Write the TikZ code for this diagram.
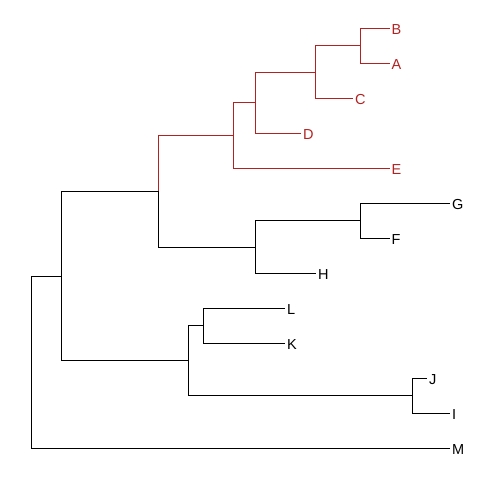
\documentclass[tikz,border=0pt]{standalone}
\usepackage{fontspec}
\setmainfont{Liberation Sans}
\definecolor{cladered}{RGB}{178,34,34}
\tikzset{
  branch/.style={line width=0.8pt, line join=miter},
  hot/.style={branch, draw=cladered},
  leaf/.style={anchor=west, inner xsep=1.8pt, inner ysep=0pt, text height=12.6pt, text depth=0pt,
    font=\fontsize{14.5}{14.5}\selectfont},
  hotleaf/.style={leaf, text=cladered}
}
\begin{document}
\begin{tikzpicture}[x=1pt, y=-1pt]
\useasboundingbox (0,0) rectangle (480,480);

% leaves
\node[hotleaf] (B) at (389.5, 28.3) {B};
\node[hotleaf] (A) at (389.5, 63.3) {A};
\node[hotleaf] (C) at (353,98.3) {C};
\node[hotleaf] (D) at (301,133.3) {D};
\node[hotleaf] (E) at (389.5,168.3) {E};
\node[leaf] (G) at (450,203.3) {G};
\node[leaf] (F) at (389.5,238.3) {F};
\node[leaf] (H) at (316,273.3) {H};
\node[leaf] (L) at (285,308.3) {L};
\node[leaf] (K) at (285,343.3) {K};
\node[leaf] (J) at (427,378.3) {J};
\node[leaf] (I) at (450,413.3) {I};
\node[leaf] (M) at (450,448.3) {M};

% inner nodes
\coordinate (AB)    at (360.3, 45.8);
\coordinate (ABC)   at (315.3, 72.1);
\coordinate (ABCD)  at (255.3,102.7);
\coordinate (ABCDE) at (233.3,135.5);
\coordinate (GF)    at (360.3,220.8);
\coordinate (GFH)   at (255.3,247.1);
\coordinate (upper) at (158.3,191.3);
\coordinate (LK)    at (203.3,325.8);
\coordinate (JI)    at (412.3,395.8);
\coordinate (lower) at (188.3,360.8);
\coordinate (inner) at (61.3,276.1);
\coordinate (root)  at (31.3,362.2);

% red clade
\draw[hot] (AB) |- (B.west);
\draw[hot] (AB) |- (A.west);
\draw[hot] (ABC) |- (AB);
\draw[hot] (ABC) |- (C.west);
\draw[hot] (ABCD) |- (ABC);
\draw[hot] (ABCD) |- (D.west);
\draw[hot] (ABCDE) |- (ABCD);
\draw[hot] (ABCDE) |- (E.west);
\draw[hot] (upper) |- (ABCDE);

% rest of tree
\draw[branch] (upper) |- (GFH);
\draw[branch] (GFH) |- (GF);
\draw[branch] (GFH) |- (H.west);
\draw[branch] (GF) |- (G.west);
\draw[branch] (GF) |- (F.west);
\draw[branch] (lower) |- (LK);
\draw[branch] (lower) |- (JI);
\draw[branch] (LK) |- (L.west);
\draw[branch] (LK) |- (K.west);
\draw[branch] (JI) |- (J.west);
\draw[branch] (JI) |- (I.west);
\draw[branch] (inner) |- (upper);
\draw[branch] (inner) |- (lower);
\draw[branch] (root) |- (inner);
\draw[branch] (root) |- (M.west);

\end{tikzpicture}
\end{document}
